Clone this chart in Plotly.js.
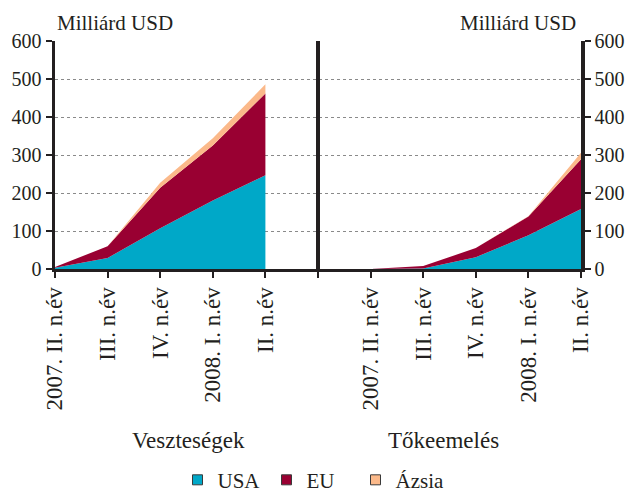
<!DOCTYPE html>
<html>
<head>
<meta charset="utf-8">
<script src="https://cdn.plot.ly/plotly-3.0.1.min.js"></script>
<style>html,body{margin:0;padding:0;background:#fff}#chart{width:625px;height:494px}</style>
</head>
<body>
<div id="chart"></div>
<script>
// Categories (quarters)
const categories = ['2007. II. n.év', 'III. n.év', 'IV. n.év', '2008. I. n.év', 'II. n.év'];
// Panel titles
const panelTitles = ['Veszteségek', 'Tőkeemelés'];
const unitLabel = 'Milliárd USD';
const seriesNames = ['USA', 'EU', 'Ázsia'];
const seriesColors = ['#00a8c8', '#990032', '#fbb98a'];

// Veszteségek (losses), billion USD
const lossUSA  = [3, 29, 107, 180, 247];
const lossEU   = [2, 31, 107, 145, 215];
const lossAsia = [0, 0, 13, 19, 24];

// Tőkeemelés (capital raising), billion USD
const capUSA  = [0, 1, 31, 89, 158];
const capEU   = [0, 7, 24, 49, 131];
const capAsia = [0, 0, 0, 1, 17];

const n = categories.length;
const leftX = categories.map((_, i) => i);
const rightX = categories.map((_, i) => i + n + 1);

const FONT = 'Liberation Serif';
const INK = '#231f20';

function area(x, y, idx, group, yaxis) {
  return {
    type: 'scatter', mode: 'none', x: x, y: y,
    stackgroup: group, fillcolor: seriesColors[idx],
    line: {width: 0}, yaxis: yaxis, showlegend: false,
    hoverinfo: 'skip', name: seriesNames[idx]
  };
}

const traces = [
  area(leftX, lossUSA, 0, 'loss', 'y'),
  area(leftX, lossEU, 1, 'loss', 'y'),
  area(leftX, lossAsia, 2, 'loss', 'y'),
  area(rightX, capUSA, 0, 'cap', 'y2'),
  area(rightX, capEU, 1, 'cap', 'y2'),
  area(rightX, capAsia, 2, 'cap', 'y2')
];
// legend entries
seriesNames.forEach((nm, i) => {
  traces.push({
    type: 'scatter', mode: 'markers', x: [null], y: [null], name: nm,
    marker: {symbol: 'square', size: 10, color: seriesColors[i], line: {color: '#3a3a3a', width: 1}},
    showlegend: true, hoverinfo: 'skip'
  });
});

const tickvals = [];
for (let i = 0; i <= 2 * n; i++) tickvals.push(i);
const ticktext = [...categories, '', ...categories];

const yBase = {
  range: [0, 600], dtick: 100, tick0: 0,
  showline: true, linewidth: 3.5, linecolor: INK,
  ticks: 'outside', ticklen: 6, tickwidth: 2, tickcolor: INK,
  tickfont: {family: FONT, size: 20, color: INK},
  zeroline: false, fixedrange: true, automargin: false
};

const layout = {
  width: 625, height: 494,
  margin: {l: 55, r: 44, t: 41, b: 225},
  paper_bgcolor: '#fff', plot_bgcolor: '#fff',
  font: {family: FONT, color: INK},
  showlegend: true,
  legend: {
    orientation: 'h', traceorder: 'normal',
    x: 0.284, xanchor: 'left', xref: 'container',
    y: 0.028, yanchor: 'middle', yref: 'container',
    font: {family: FONT, size: 21, color: INK},
    entrywidth: 44, entrywidthmode: 'pixels', itemwidth: 30,
    bgcolor: 'rgba(0,0,0,0)'
  },
  xaxis: {
    range: [0, 2 * n], tickmode: 'array', tickvals: tickvals, ticktext: ticktext,
    tickangle: -90, showline: true, linewidth: 3, linecolor: INK,
    ticks: 'outside', ticklen: 6, tickwidth: 2, tickcolor: INK,
    tickfont: {family: FONT, size: 23, color: INK},
    showgrid: false, zeroline: false, fixedrange: true, automargin: false
  },
  yaxis: Object.assign({}, yBase, {
    side: 'left', showgrid: true, gridcolor: '#8a8a8a', griddash: 'dot', gridwidth: 1
  }),
  yaxis2: Object.assign({}, yBase, {
    side: 'right', overlaying: 'y', showgrid: false
  }),
  shapes: [{
    type: 'line', xref: 'x', yref: 'paper', x0: n, x1: n, y0: 0, y1: 1,
    line: {color: INK, width: 4}
  }],
  annotations: [
    {text: unitLabel, xref: 'paper', yref: 'paper', x: 0.0, y: 1.079, xanchor: 'left', yanchor: 'middle',
     showarrow: false, font: {family: FONT, size: 21, color: INK}},
    {text: unitLabel, xref: 'paper', yref: 'paper', x: 0.994, y: 1.079, xanchor: 'right', yanchor: 'middle',
     showarrow: false, font: {family: FONT, size: 21, color: INK}},
    {text: panelTitles[0], xref: 'paper', yref: 'paper', x: 0.253, y: -0.75, xanchor: 'center', yanchor: 'middle',
     showarrow: false, font: {family: FONT, size: 23, color: INK}},
    {text: panelTitles[1], xref: 'paper', yref: 'paper', x: 0.738, y: -0.75, xanchor: 'center', yanchor: 'middle',
     showarrow: false, font: {family: FONT, size: 23, color: INK}}
  ]
};

Plotly.newPlot('chart', traces, layout, {displayModeBar: false, staticPlot: true});
</script>
</body>
</html>
